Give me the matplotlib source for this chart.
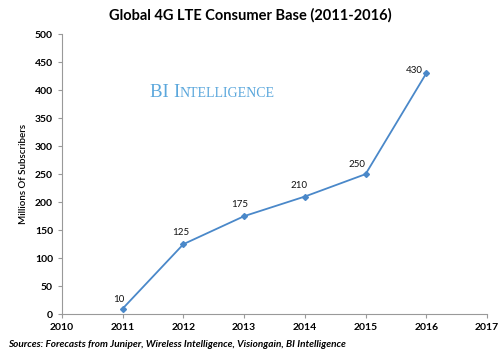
import matplotlib
matplotlib.use("Agg")
import matplotlib.pyplot as plt
from matplotlib.offsetbox import TextArea, HPacker, AnchoredOffsetbox

years = [2011, 2012, 2013, 2014, 2015, 2016]
subscribers = [10, 125, 175, 210, 250, 430]
xticks = list(range(2010, 2018))
yticks = list(range(0, 501, 50))

plt.rcParams['font.family'] = ['Lato', 'DejaVu Sans']
fig = plt.figure(figsize=(5, 3.55), dpi=100)
ax = fig.add_axes([0.124, 0.115, 0.85, 0.789])

line_color = '#4a88c9'
ax.plot(years, subscribers, color=line_color, lw=1.3, marker='D', ms=3)
offsets = [(-3, 3), (-2, 5), (-3, 5), (-4, 5), (-6, 4), (-9, -1)]
for (x, y), off in zip(zip(years, subscribers), offsets):
    ax.annotate(str(y), (x, y), xytext=off, textcoords='offset points',
                ha='center', va='bottom', fontsize=7, color='#111111')

ax.set_xlim(2010, 2017)
ax.set_ylim(0, 500)
ax.set_xticks(xticks)
ax.set_yticks(yticks)
ax.tick_params(labelsize=7.5, length=3, color='#999999', width=0.8)
for lab in ax.get_xticklabels() + ax.get_yticklabels():
    lab.set_fontweight('bold')
ax.spines['top'].set_visible(False)
ax.spines['right'].set_visible(False)
ax.spines['left'].set_color('#999999')
ax.spines['bottom'].set_color('#999999')
ax.set_ylabel('Millions Of Subscribers', fontsize=7, fontweight='semibold', labelpad=5)

fig.text(0.5, 0.957, 'Global 4G LTE Consumer Base (2011-2016)', ha='center', va='center',
         fontsize=10.5, fontweight='bold')
fig.text(0.016, 0.017, 'Sources: Forecasts from Juniper, Wireless Intelligence, Visiongain, BI Intelligence',
         ha='left', va='bottom', fontsize=7.2, style='italic', fontweight='bold')

wm_color = '#5aa7dc'
pk = HPacker(children=[TextArea('BI ', textprops=dict(fontsize=13.6, color=wm_color, family='Liberation Serif')),
                       TextArea('I', textprops=dict(fontsize=13.6, color=wm_color, family='Liberation Serif')),
                       TextArea('NTELLIGENCE', textprops=dict(fontsize=10, color=wm_color, family='Liberation Serif'))],
             align='baseline', pad=0, sep=0)
ab = AnchoredOffsetbox(loc='center left', child=pk, frameon=False,
                       bbox_to_anchor=(0.3, 0.74), bbox_transform=fig.transFigure, borderpad=0, pad=0)
fig.add_artist(ab)

fig.savefig('out.png', dpi=100)
